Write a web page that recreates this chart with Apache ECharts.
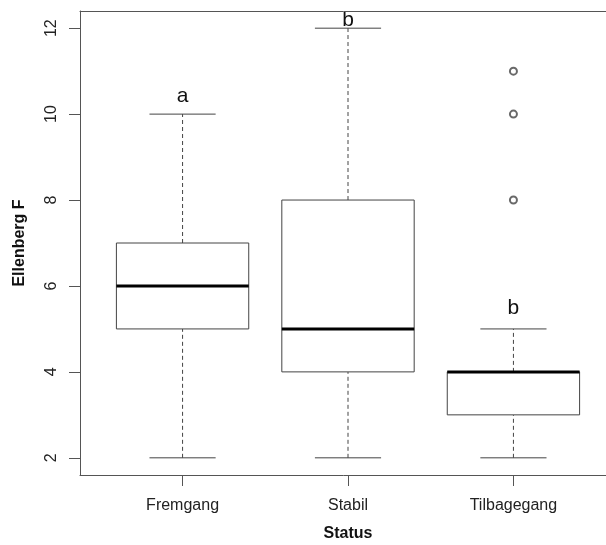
<!DOCTYPE html>
<html>
<head>
<meta charset="utf-8">
<script src="https://cdn.jsdelivr.net/npm/echarts@6/dist/echarts.min.js"></script>
<style>html,body{margin:0;padding:0;background:#fff;}#c{width:606px;height:545px;}</style>
</head>
<body>
<div id="c"></div>
<script>
const categories = ['Fremgang', 'Stabil', 'Tilbagegang'];
const whiskerLow = [2, 2, 2];
const q1 = [5, 4, 3];
const medians = [6, 5, 4];
const q3 = [7, 8, 4];
const whiskerHigh = [10, 12, 5];
const outliers = [[3, 8], [3, 10], [3, 11]];
const letters = ['a', 'b', 'b'];
const letterY = [10.18, 11.95, 5.23];
const yTicks = [2, 4, 6, 8, 10, 12];

const FONT = 'Liberation Sans, Arial, Helvetica, sans-serif';
const boxData = categories.map((c, i) => [i + 1, whiskerLow[i], q1[i], medians[i], q3[i], whiskerHigh[i]]);
const letterData = categories.map((c, i) => [i + 1, letterY[i]]);

const chart = echarts.init(document.getElementById('c'), null, {renderer: 'canvas'});
chart.setOption({
  animation: false,
  backgroundColor: '#fff',
  grid: {left: 80, top: 11, width: 536, height: 464, show: false,
    containLabel: false, outerBoundsMode: 'none'},
  xAxis: [{
    type: 'value', min: 0.38, max: 3.62, position: 'bottom',
    name: 'Status', nameLocation: 'middle', nameGap: 51,
    nameTextStyle: {fontFamily: FONT, fontWeight: 'bold', fontSize: 16, color: '#111'},
    splitLine: {show: false},
    axisLine: {show: true, lineStyle: {color: '#555', width: 1}},
    axisTick: {show: true, length: 11, customValues: [1, 2, 3], lineStyle: {color: '#555'}},
    axisLabel: {customValues: [1, 2, 3], margin: 23, fontFamily: FONT, fontSize: 16, color: '#222',
      hideOverlap: false, formatter: v => categories[Math.round(v) - 1] || ''}
  }, {
    type: 'value', min: 0.38, max: 3.62, position: 'top',
    splitLine: {show: false}, axisTick: {show: false}, axisLabel: {show: false},
    axisLine: {show: true, lineStyle: {color: '#555', width: 1}}
  }],
  yAxis: {
    type: 'value', min: 1.6, max: 12.4,
    name: 'Ellenberg F', nameLocation: 'middle', nameGap: 52, nameRotate: 90,
    nameTextStyle: {fontFamily: FONT, fontWeight: 'bold', fontSize: 16, color: '#111'},
    splitLine: {show: false},
    axisLine: {show: true, lineStyle: {color: '#555', width: 1}},
    axisTick: {show: true, length: 11, customValues: yTicks, lineStyle: {color: '#555'}},
    axisLabel: {customValues: yTicks, rotate: 90, margin: 20, fontFamily: FONT, fontSize: 16, color: '#222'}
  },
  series: [
    {
      type: 'custom',
      data: boxData,
      encode: {x: 0, y: [1, 2, 3, 4, 5]},
      renderItem: function (params, api) {
        const x = api.value(0);
        const half = api.size([0.4, 0])[0];
        const staple = api.size([0.2, 0])[0];
        const p = k => api.coord([x, api.value(k)]);
        const lo = p(1), b1 = p(2), md = p(3), b3 = p(4), hi = p(5);
        const cx = lo[0];
        const grey = {stroke: '#444', lineWidth: 1, fill: null};
        const dash = {stroke: '#444', lineWidth: 1, lineDash: [4, 3], fill: null};
        return {
          type: 'group',
          children: [
            {type: 'line', shape: {x1: cx, y1: lo[1], x2: cx, y2: b1[1]}, style: dash},
            {type: 'line', shape: {x1: cx, y1: b3[1], x2: cx, y2: hi[1]}, style: dash},
            {type: 'line', shape: {x1: cx - staple, y1: lo[1], x2: cx + staple, y2: lo[1]}, style: grey},
            {type: 'line', shape: {x1: cx - staple, y1: hi[1], x2: cx + staple, y2: hi[1]}, style: grey},
            {type: 'rect', shape: {x: cx - half, y: b3[1], width: 2 * half, height: b1[1] - b3[1]}, style: {stroke: '#444', lineWidth: 1, fill: '#fff'}},
            {type: 'line', shape: {x1: cx - half, y1: md[1], x2: cx + half, y2: md[1]}, style: {stroke: '#000', lineWidth: 3}}
          ]
        };
      },
      z: 2
    },
    {
      type: 'scatter',
      data: outliers,
      symbol: 'emptyCircle',
      symbolSize: 7,
      itemStyle: {color: '#444', borderColor: '#444', borderWidth: 1},
      z: 3
    },
    {
      type: 'custom',
      data: letterData,
      encode: {x: 0, y: 1},
      renderItem: function (params, api) {
        const pt = api.coord([api.value(0), api.value(1)]);
        const cs = params.coordSys;
        return {
          type: 'group',
          clipPath: {type: 'rect', shape: {x: cs.x, y: cs.y + 1, width: cs.width, height: cs.height}},
          children: [{
            type: 'text',
            style: {text: letters[params.dataIndex], x: pt[0], y: pt[1], align: 'center', verticalAlign: 'bottom',
              fontFamily: FONT, fontSize: 21, fill: '#111'}
          }]
        };
      },
      z: 4
    }
  ]
});
</script>
</body>
</html>
